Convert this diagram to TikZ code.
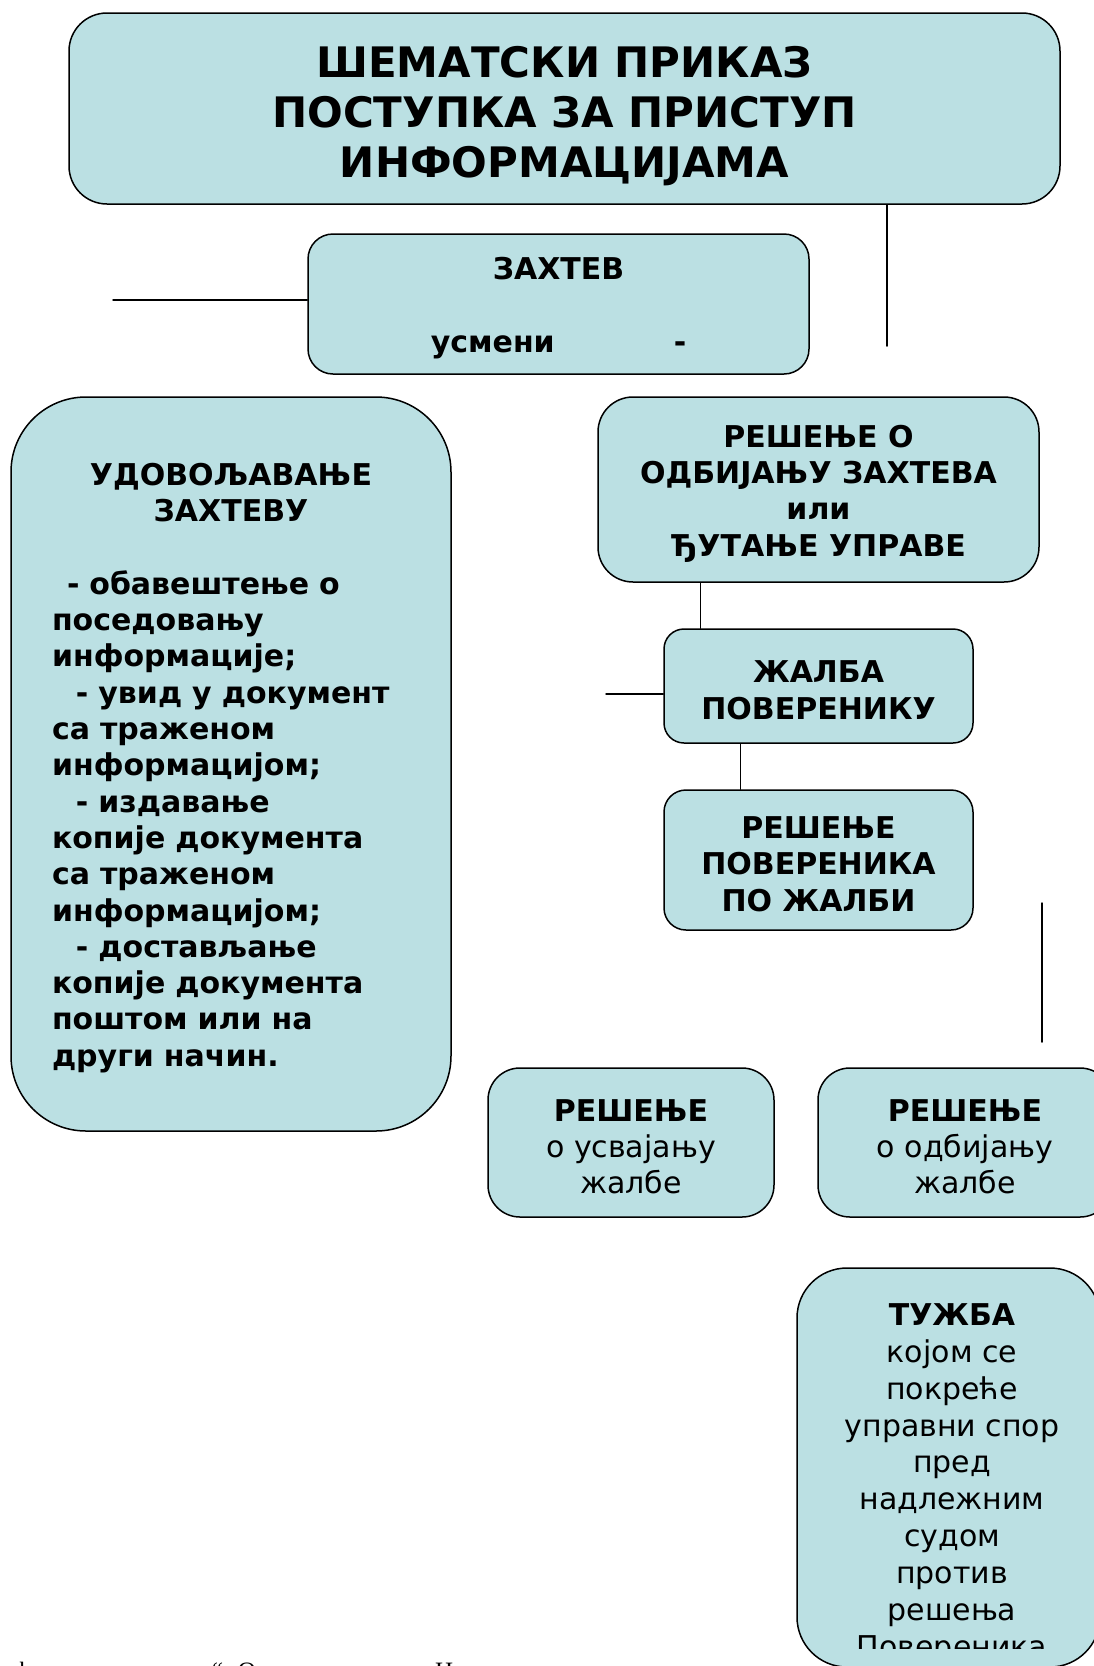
\documentclass[tikz,border=0pt]{standalone}
\usepackage{fontspec}
\setmainfont{DejaVu Sans}
\newfontfamily\seriffont{Liberation Serif}
\usetikzlibrary{positioning, calc}
\definecolor{boxblue}{HTML}{BBE0E3}
% strut that gives the first line its full ascent
\newcommand{\ws}[1][1.005em]{\vrule width 0pt height #1\relax}

\begin{document}
\begin{tikzpicture}[x=1pt, y=-1pt,
  box/.style   = {draw, line width=1.5pt, fill=boxblue, rounded corners=#1,
                  align=center, inner sep=0pt},
  box/.default = 25pt,
  bold/.style  = {font=\fontsize{30}{36.3}\selectfont\bfseries},
  plain/.style = {font=\fontsize{30}{36.3}\selectfont},
  link/.style  = {line width=1.5pt, line cap=round},
  frag/.style  = {font=\seriffont\fontsize{25}{30}\selectfont, inner sep=0pt, anchor=base west}
]
  \useasboundingbox (0,0) rectangle (1094,1666);
  \clip (0,0) rectangle (1094,1666);

  % Title
  \node[box=38pt, minimum width=991pt, minimum height=191pt,
        font=\fontsize{42}{50}\selectfont\bfseries] (title) at (564.5,108.5)
    {\ws[1.1em]ШЕМАТСКИ ПРИКАЗ\\ ПОСТУПКА ЗА ПРИСТУП\\ ИНФОРМАЦИЈАМА};

  % Request
  \node[box, bold, minimum width=501pt, minimum height=140pt] (zahtev) at (558.5,304)
    {\ws ЗАХТЕВ\\[36.3pt] усмени\hspace{119pt}-};

  % Granting the request
  \node[box=75pt, bold, minimum width=440pt, minimum height=734pt,
        text width=358pt, align=left] (grant) at (231,764)
    {\centering\ws УДОВОЉАВАЊЕ\\ ЗАХТЕВУ\par
     \vspace{36.3pt}
     \raggedright
     \hspace*{15pt}- обавештење о\\ поседовању\\ информације;\\
     \hspace*{24pt}- увид у документ\\ са траженом\\ информацијом;\\
     \hspace*{24pt}- издавање\\ копије документа\\ са траженом\\ информацијом;\\
     \hspace*{24pt}- достављање\\ копије документа\\ поштом или на\\ други начин.\par};

  % Refusal or silence
  \node[box=35pt, bold, minimum width=441pt, minimum height=185pt] (odbij) at (818.5,489.5)
    {\ws РЕШЕЊЕ О\\ ОДБИЈАЊУ ЗАХТЕВА\\ или\\ ЂУТАЊЕ УПРАВЕ};

  % Appeal
  \node[box=20pt, bold, minimum width=309pt, minimum height=114pt] (zalba) at (818.5,686)
    {\ws ЖАЛБА\\ ПОВЕРЕНИКУ};

  % Commissioner decision
  \node[box=22pt, bold, minimum width=309pt, minimum height=140pt] (povresenje) at (818.5,860)
    {\ws РЕШЕЊЕ\\ ПОВЕРЕНИКА\\ ПО ЖАЛБИ};

  % Decisions on appeal
  \node[box=32pt, plain, minimum width=286pt, minimum height=149pt] (usvoj) at (631,1142.5)
    {\ws\textbf{РЕШЕЊЕ}\\ о усвајању\\ жалбе};
  \node[box=32pt, plain, minimum width=294pt, minimum height=149pt] (odbijzalba) at (965,1142.5)
    {\ws\textbf{РЕШЕЊЕ}\\ о одбијању\\ жалбе};

  % Lawsuit (text is cut by the box's inner edge)
  \node[box=50pt, minimum width=303pt, minimum height=399pt] (tuzba) at (948.5,1467.5) {};
  \begin{scope}
    \clip (tuzba.north west) rectangle ([yshift=19pt]tuzba.south east);
    \node[plain, align=center, inner sep=0pt, anchor=north,
          font=\fontsize{30}{36.9}\selectfont] (tuzbatext) at (952,1295)
      {\ws\textbf{ТУЖБА}\\ којом се\\ покреће\\ управни спор\\ пред\\ надлежним\\ судом\\ против\\ решења\\ Повереника};
  \end{scope}

  % loose connector ends
  \coordinate (zleft)   at (113,300);
  \coordinate (ttail)   at (887,346);
  \coordinate (zaltail) at (606,694);
  \coordinate (vtop)    at (1042,903);
  \coordinate (vbot)    at (1042,1042);

  \draw[link] (zleft) -- (zleft -| zahtev.west);
  \draw[link] (title.south -| ttail) -- (ttail);
  \draw[link] ([xshift=-118pt]odbij.south) -- ([xshift=-118pt]odbij.south |- zalba.north);
  \draw[link] (zaltail) -- (zaltail -| zalba.west);
  \draw[link] ([xshift=-78pt]zalba.south) -- ([xshift=-78pt]zalba.south |- povresenje.north);
  \draw[link] (vtop) -- (vbot);

  % cut-off text line at the bottom edge
  \node[frag] (fragA) at (14,1679) {ф};
  \node[frag] (fragB) at (212,1679) {“. О};
  \node[frag] (fragC) at (435,1679) {Н};

\end{tikzpicture}
\end{document}
